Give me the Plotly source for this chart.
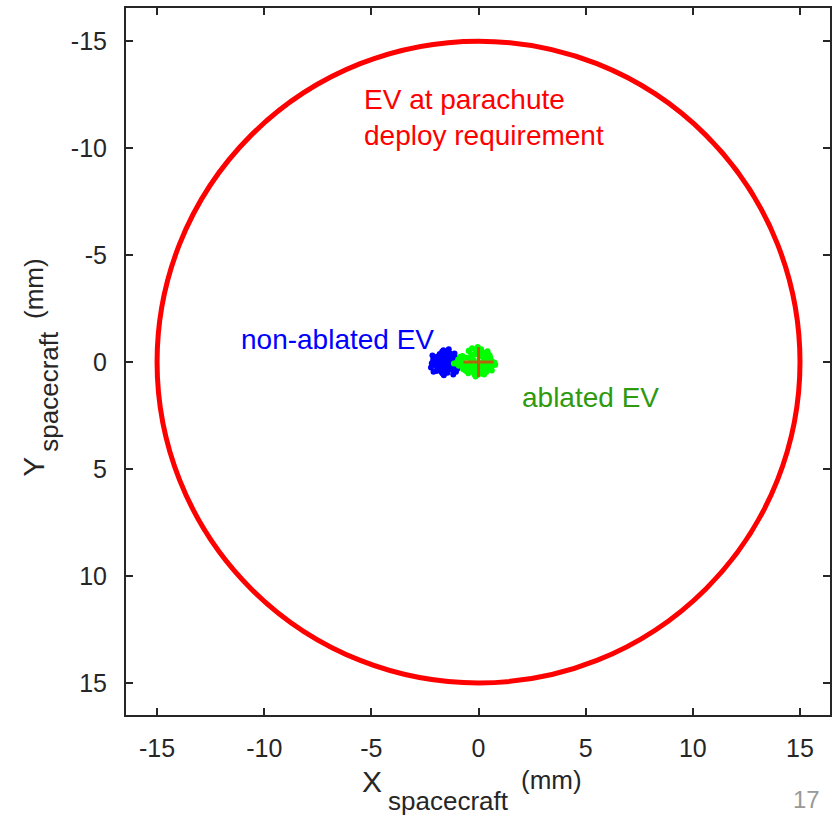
import plotly.graph_objects as go

# ---- data ----
req_radius = 15  # EV requirement circle radius (mm)

blue_x = [-1.62,-1.48,-1.75,-1.55,-1.90,-1.41,-1.68,-1.83,-1.52,-1.60,
          -1.95,-1.37,-1.71,-1.58,-1.44,-1.80,-2.05,-1.66,-1.50,-1.30,
          -1.77,-1.63,-1.88,-1.46,-1.55,-2.12,-1.35,-1.72,-1.59,-1.92,
          -1.25,-1.69,-1.81,-1.53,-1.64,-1.98,-1.42,-1.74,-1.57,-1.86,
          -1.20,-1.61,-1.49,-2.00,-1.67,-1.33,-1.78,-1.54,-1.91,-1.45,
          -2.18,-1.15,-1.70,-1.60,-1.84,-1.39,-1.65,-1.96,-1.51,-1.28,
          -1.76,-1.62,-2.08,-1.43,-1.58,-1.87,-1.10,-1.73,-1.56,-1.94,
          -1.47,-1.69,-1.82,-1.36,-2.02,-1.63,-1.52,-1.79,-1.22,-1.66,
          -1.05,-1.12,-0.98,-1.18,-1.08,-2.15,-2.22,-1.00,-1.14,-2.10]
blue_y = [0.05,-0.12,0.18,-0.25,0.02,0.22,-0.08,0.30,-0.35,0.12,
          -0.18,0.08,0.40,-0.05,0.27,-0.30,0.10,-0.42,0.15,-0.02,
          0.33,-0.20,0.24,0.00,-0.45,-0.10,0.35,-0.28,0.48,0.07,
          -0.15,0.20,-0.38,0.28,-0.55,0.13,-0.22,0.45,-0.07,0.03,
          0.25,0.55,-0.32,-0.14,0.38,-0.40,0.09,0.17,-0.26,0.50,
          0.06,-0.04,-0.48,0.32,-0.11,-0.60,0.19,0.42,-0.17,0.11,
          -0.36,0.62,-0.03,0.36,-0.24,0.16,0.02,0.29,-0.44,0.23,
          -0.09,0.52,-0.29,0.04,-0.21,-0.50,0.43,0.14,-0.33,0.26,
          0.45,-0.40,0.30,0.58,-0.20,-0.30,0.25,0.10,0.40,0.45]

green_x = [-0.10,0.25,-0.45,0.05,-0.70,0.40,-0.22,0.15,-0.55,0.30,
           -0.05,0.55,-0.35,0.10,-0.85,0.20,-0.15,0.45,-0.60,0.00,
           0.35,-0.28,0.62,-0.40,0.08,-0.75,0.18,-0.12,0.50,-0.50,
           -0.95,0.28,-0.20,0.70,-0.32,0.12,-0.65,0.38,-0.08,0.58,
           -0.42,0.22,-1.05,0.02,0.48,-0.18,-0.78,0.32,-0.30,0.65,
           0.14,-0.58,0.42,-0.02,-0.88,0.26,-0.38,0.75,-0.25,0.06,
           -0.68,0.52,-0.14,0.34,-1.15,0.18,-0.46,0.60,-0.04,-0.80,
           0.44,-0.26,0.09,-0.62,0.36,-0.10,0.68,-0.48,0.24,-0.92,
           -0.18,0.56,-0.36,0.04,-0.72,0.30,-0.06,0.46,-0.52,0.16,
           -1.00,0.40,-0.24,0.78,-0.44,0.20,-0.82,0.10,-0.34,0.54]
green_y = [0.08,-0.15,0.22,-0.30,0.05,0.35,-0.10,0.28,-0.20,0.12,
           -0.40,0.18,-0.05,0.45,-0.25,0.00,0.32,-0.35,0.15,-0.55,
           0.25,-0.08,0.40,-0.18,0.55,-0.28,0.10,-0.48,0.02,0.30,
           -0.12,0.50,-0.38,0.06,0.20,-0.60,0.36,-0.22,0.62,-0.02,
           0.14,-0.45,0.04,0.48,-0.32,0.26,-0.14,0.38,-0.65,0.16,
           -0.26,0.42,-0.50,0.11,-0.06,0.58,-0.18,0.03,0.33,-0.42,
           0.20,-0.30,0.68,-0.10,0.07,0.44,-0.52,0.24,-0.70,-0.04,
           -0.20,0.30,-0.58,0.12,0.46,-0.36,0.01,0.52,-0.24,0.17,
           0.60,-0.16,0.27,-0.44,0.34,-0.07,-0.62,0.09,0.40,-0.28,
           0.09,-0.05,0.48,0.13,-0.54,0.37,-0.11,0.21,-0.33,-0.09]

cross_x = [-0.7, 0.7, None, 0, 0]
cross_y = [0, 0, None, -0.7, 0.7]

tick_vals = [-15, -10, -5, 0, 5, 10, 15]
tick_text = ["-15", "-10", "-5", "0", "5", "10", "15"]

x_title_parts = ["X", "spacecraft", "(mm)"]
y_title_parts = ["Y", "spacecraft", "(mm)"]

FONT = "Arial, Liberation Sans, sans-serif"
TXT = "#262626"

fig = go.Figure()
fig.add_trace(go.Scatter(x=blue_x, y=blue_y, mode="markers",
                         marker=dict(color="#0000FF", size=6, line=dict(width=0)),
                         showlegend=False, hoverinfo="skip"))
fig.add_trace(go.Scatter(x=green_x, y=green_y, mode="markers",
                         marker=dict(color="#00FF00", size=6, line=dict(width=0)),
                         showlegend=False, hoverinfo="skip"))
fig.add_trace(go.Scatter(x=cross_x, y=cross_y, mode="lines",
                         line=dict(color="#B4650C", width=3),
                         showlegend=False, hoverinfo="skip"))

fig.add_shape(type="circle", xref="x", yref="y",
              x0=-req_radius, x1=req_radius, y0=-req_radius, y1=req_radius,
              line=dict(color="#FF0000", width=5), layer="above")

fig.add_annotation(x=-5.44, y=-11.45, xref="x", yref="y",
                   text="EV at parachute<br>deploy requirement",
                   showarrow=False, xanchor="left", yanchor="middle", align="left",
                   font=dict(family=FONT, size=28, color="#FF0000"))
fig.add_annotation(x=-11.17, y=-1.04, xref="x", yref="y",
                   text="non-ablated EV", showarrow=False,
                   xanchor="left", yanchor="middle",
                   font=dict(family=FONT, size=28, color="#0000FF"))
fig.add_annotation(x=1.95, y=1.66, xref="x", yref="y",
                   text="ablated EV", showarrow=False,
                   xanchor="left", yanchor="middle",
                   font=dict(family=FONT, size=28, color="#2E9A0E"))
fig.add_annotation(x=1.0, y=0.0, xref="paper", yref="paper",
                   xanchor="right", yanchor="bottom",
                   xshift=-8, yshift=-100,
                   text="17", showarrow=False,
                   font=dict(family=FONT, size=24, color="#999999"))

# axis titles (main letter, subscript, units) placed as separate texts
x_pos = [(0.3499, -0.0934, 30), (0.4582, -0.1216, 26), (0.6041, -0.0919, 26)]
for t, (px, py, fs) in zip(x_title_parts, x_pos):
    fig.add_annotation(x=px, y=py, xref="paper", yref="paper",
                       xanchor="center", yanchor="middle", text=t,
                       showarrow=False,
                       font=dict(family=FONT, size=fs, color=TXT))
y_pos = [(-0.1317, 0.3515, 30), (-0.1090, 0.4576, 26), (-0.1300, 0.6033, 26)]
for t, (px, py, fs) in zip(y_title_parts, y_pos):
    fig.add_annotation(x=px, y=py, xref="paper", yref="paper",
                       xanchor="center", yanchor="middle", text=t,
                       textangle=-90, showarrow=False,
                       font=dict(family=FONT, size=fs, color=TXT))

axis_common = dict(
    tickvals=tick_vals, ticktext=tick_text,
    ticks="inside", ticklen=7, tickwidth=1.5, tickcolor=TXT,
    showline=True, linecolor=TXT, linewidth=2, mirror="ticks",
    showgrid=False, zeroline=False,
    tickfont=dict(family=FONT, size=25, color=TXT),
)

fig.update_layout(
    width=832, height=815,
    margin=dict(l=126, r=0, t=8, b=100),
    plot_bgcolor="white", paper_bgcolor="white",
    xaxis=dict(range=[-16.45, 16.4], ticklabelstandoff=10, **axis_common),
    yaxis=dict(range=[16.5, -16.55], ticklabelstandoff=12, **axis_common),
)

fig.write_html("out.html")
